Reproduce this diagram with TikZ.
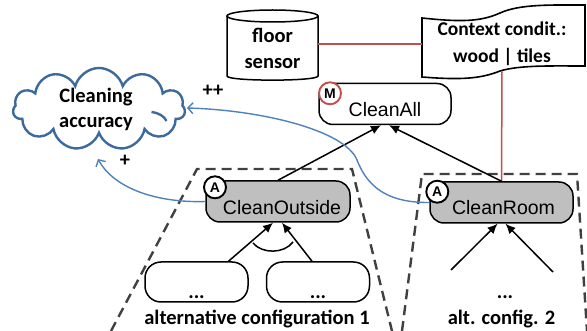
\documentclass[tikz,border=0pt]{standalone}
\usepackage{fontspec}
\setmainfont{Carlito}
\newfontfamily\arialf{Liberation Sans}
\usetikzlibrary{shapes.symbols,arrows.meta,calc}

\definecolor{cloudblue}{HTML}{3C6A9E}
\definecolor{linkblue}{HTML}{4F81BD}
\definecolor{ctxred}{HTML}{C0504D}
\definecolor{taskgray}{HTML}{BFBFBF}
\definecolor{dashgray}{HTML}{404040}

\begin{document}
\begin{tikzpicture}[x=1pt,y=-1pt,
  goalbox/.style={draw, line width=1.5pt, rounded corners=14pt, inner sep=0pt,
                  minimum height=41pt},
  taskbox/.style={goalbox, fill=taskgray},
  subbox/.style={draw, line width=1.5pt, rounded corners=16pt, inner sep=0pt,
                 fill=white, minimum width=103pt, minimum height=40pt},
  goaltext/.style={font=\arialf\fontsize{19.5}{22}\selectfont, anchor=base, inner sep=0pt},
  lbl/.style={font=\fontsize{20.5}{25}\selectfont\bfseries, inner sep=0pt},
  tag/.style={circle, draw, line width=1.9pt, fill=white, inner sep=0pt,
              minimum size=22pt, font=\arialf\fontsize{14}{14}\selectfont\bfseries},
  dashbox/.style={draw=dashgray, line width=2.4pt, dash pattern=on 10pt off 6pt},
  refine/.style={draw, line width=1.5pt, -{Latex[length=10pt,width=9pt]}},
  contrib/.style={draw=linkblue, line width=1.4pt,
                  -{Straight Barb[length=5pt,width=11pt,line width=1.4pt]}},
  ctxline/.style={draw=ctxred, line width=1.5pt},
  cloudline/.style={draw=cloudblue, line width=2.4pt}]
\useasboundingbox (0,0) rectangle (587,331);

% alternative configurations
\draw[dashbox] (111,331) -- (197,169) -- (352,169) -- (392,331);
\draw[dashbox] (402,331) -- (422,174) -- (577,174) -- (587,331);

% softgoal
\node[cloud, cloud puffs=11, cloud ignores aspect, cloudline, fill=white,
      minimum width=172pt, minimum height=82pt] (acc) at (99,109) {};
\draw[cloudline] (151.5,112) .. controls (159,113) and (164,116) .. (166.5,121);
\node[lbl, align=center] (acctext) at (96,109) {Cleaning\\accuracy};

% floor sensor (cylinder)
\coordinate (fsE) at (318,44);
\draw[line width=1.5pt, fill=white] (227,16) -- (227,76)
  .. controls (227,81.5) and (318,81.5) .. (318,76) -- (318,16);
\draw[line width=1.5pt] (272.5,16) ellipse [x radius=45.5, y radius=6];
\node[lbl, align=center, font=\fontsize{20.5}{26}\selectfont\bfseries]
  (fs) at (272.5,48) {floor\\sensor};

% context condition (tape)
\draw[line width=1.6pt, fill=white] (422,18)
  .. controls (460,22) and (480,22) .. (500,13)
  .. controls (520,4) and (550,5) .. (585,5)
  -- (585,66)
  .. controls (550,66) and (520,65) .. (500,71)
  .. controls (480,79) and (460,80) .. (422,77) -- cycle;
\coordinate (ctxW) at (422,44);
\coordinate (ctxS) at (502,71.5);
\node[lbl, align=center, font=\fontsize{19.5}{27}\selectfont\bfseries]
  (ctx) at (502,43.5) {Context condit.:\\wood | tiles};

% goals and tasks
\node[goalbox, fill=white, minimum width=132pt] (ca) at (385,104) {};
\node[taskbox, minimum width=144pt] (co) at (278,201.5) {};
\node[taskbox, minimum width=143pt] (cr) at (501.5,202.5) {};
\node[subbox] (sl) at (196.5,282) {};
\node[subbox] (sr) at (318,282) {};

% context links
\draw[ctxline] (fsE) -- (ctxW);
\draw[ctxline] (ctxS) -- (cr.north);

% refinements
\draw[refine] (co.north) -- ([xshift=-4pt]ca.south);
\draw[refine] (cr.north) -- ([xshift=4pt]ca.south);
\draw[refine] ([xshift=32pt]sl.north) -- ([xshift=-5pt]co.south);
\draw[refine] ([xshift=-6pt]sr.north) -- ([xshift=4pt]co.south);
\draw[line width=1.5pt] (253,243) .. controls (262,254) and (284,254) .. (293,242);
\coordinate (crA) at (451,270);
\coordinate (crB) at (553,272);
\draw[refine] (crA) -- ([xshift=-4pt]cr.south);
\draw[refine] (crB) -- ([xshift=4pt]cr.south);

% contributions
\coordinate (accE) at (187,108);
\coordinate (accS) at (98,159);
\draw[contrib] (cr.west) .. controls (380,203) and (365,180) .. (357,160)
  .. controls (345,130) and (260,110) .. (accE);
\draw[contrib] (co.west) .. controls (160,203) and (115,190) .. (accS);
\node[lbl] (pp) at (213,91) {++};
\node[lbl] (p) at (125,161) {+};

% labels
\node[goaltext] (catext) at (385,117) {CleanAll};
\node[goaltext] (cotext) at (282,215) {CleanOutside};
\node[goaltext] (crtext) at (503.5,215) {CleanRoom};
\node[tag, draw=ctxred] (m) at (330,93.3) {M};
\node[tag] (a1) at (215,187.3) {A};
\node[tag] (a2) at (437.3,191.7) {A};

\node[lbl, anchor=base] (dl) at (196.5,299) {...};
\node[lbl, anchor=base] (dr) at (318,299) {...};
\node[lbl, anchor=base] (dc) at (505,299) {...};
\node[lbl, anchor=base] (alt1) at (257,325) {alternative configuration 1};
\node[lbl, anchor=base] (alt2) at (501.5,325) {alt. config. 2};
\end{tikzpicture}
\end{document}
